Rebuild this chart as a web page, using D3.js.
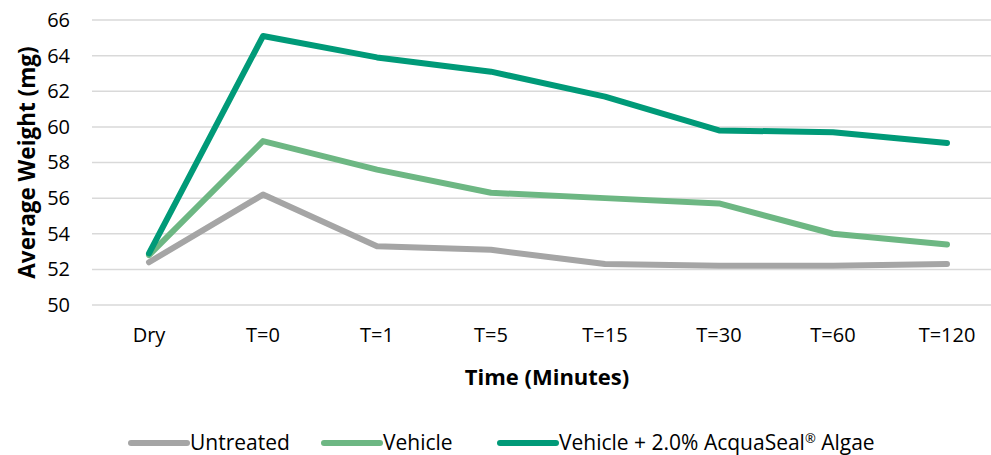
<!DOCTYPE html>
<html>
<head>
<meta charset="utf-8">
<script src="https://cdn.jsdelivr.net/npm/d3@7"></script>
<style>
  body { margin: 0; background: #fff; }
  text { font-family: "Open Sans", "Liberation Sans", sans-serif; fill: #000; }
</style>
</head>
<body>
<div id="chart"></div>
<script>
// categories and series
const timePoints = ["Dry", "T=0", "T=1", "T=5", "T=15", "T=30", "T=60", "T=120"];
const untreated = [52.4, 56.2, 53.3, 53.1, 52.3, 52.2, 52.2, 52.3];
const vehicle = [52.8, 59.2, 57.6, 56.3, 56.0, 55.7, 54.0, 53.4];
const acquaSeal = [52.9, 65.1, 63.9, 63.1, 61.7, 59.8, 59.7, 59.1];
const yTicks = [50, 52, 54, 56, 58, 60, 62, 64, 66];
const seriesNames = ["Untreated", "Vehicle", "Vehicle + 2.0% AcquaSeal\u00AE Algae"];

const series = [
  { name: seriesNames[0], values: untreated, color: "#A5A5A5" },
  { name: seriesNames[1], values: vehicle, color: "#6DB783" },
  { name: seriesNames[2], values: acquaSeal, color: "#009A78" }
];

const W = 991, H = 455;
const svg = d3.select("#chart").append("svg")
  .attr("width", W).attr("height", H);

// plot area (right edge runs past the picture, as in the reference)
const plotLeft = 92, plotRight = 1004, plotTop = 20, plotBottom = 305;

const x = d3.scaleBand().domain(timePoints).range([plotLeft, plotRight]);
const y = d3.scaleLinear().domain([50, 66]).range([plotBottom, plotTop]);

// gridlines
svg.append("g")
  .selectAll("line")
  .data(yTicks)
  .join("line")
  .attr("x1", plotLeft).attr("x2", W)
  .attr("y1", d => y(d)).attr("y2", d => y(d))
  .attr("stroke", "#D9D9D9")
  .attr("stroke-width", 1.5);

// y axis labels
const yAxis = svg.append("g")
  .attr("transform", `translate(${plotLeft},0)`)
  .call(d3.axisLeft(y).tickValues(yTicks).tickSize(0).tickPadding(22));
yAxis.select(".domain").remove();
yAxis.selectAll("text")
  .style("font-size", "20px")
  .attr("font-family", null);

// x axis labels
const xAxis = svg.append("g")
  .attr("transform", `translate(0,${plotBottom})`)
  .call(d3.axisBottom(x).tickSize(0).tickPadding(23));
xAxis.select(".domain").remove();
xAxis.selectAll("text")
  .style("font-size", "20px")
  .attr("font-family", null);

// axis titles
svg.append("text")
  .attr("transform", `translate(29,${(plotTop + plotBottom) / 2}) rotate(-90)`)
  .attr("text-anchor", "middle")
  .attr("dominant-baseline", "middle")
  .style("font-size", "22.5px")
  .style("font-weight", "bold")
  .text("Average Weight (mg)");

svg.append("text")
  .attr("x", 547)
  .attr("y", 385)
  .attr("text-anchor", "middle")
  .style("font-size", "22px")
  .style("font-weight", "bold")
  .text("Time (Minutes)");

// lines
const line = d3.line()
  .x((d, i) => x(timePoints[i]) + x.bandwidth() / 2)
  .y(d => y(d));

svg.append("g")
  .selectAll("path")
  .data(series)
  .join("path")
  .attr("d", d => line(d.values))
  .attr("fill", "none")
  .attr("stroke", d => d.color)
  .attr("stroke-width", 6)
  .attr("stroke-linecap", "round")
  .attr("stroke-linejoin", "round");

// legend
const legendX = [131, 324, 500];
const legend = svg.append("g")
  .selectAll("g")
  .data(series)
  .join("g")
  .attr("transform", (d, i) => `translate(${legendX[i]},443)`);

legend.append("line")
  .attr("x1", 0).attr("x2", 56)
  .attr("stroke", d => d.color)
  .attr("stroke-width", 6)
  .attr("stroke-linecap", "round");

// the registered mark is set as a small superscript
legend.append("text")
  .attr("x", 59)
  .attr("y", 7)
  .style("font-size", "21px")
  .each(function(d) {
    const parts = d.name.split("\u00AE");
    const t = d3.select(this);
    t.append("tspan").text(parts[0]);
    if (parts.length > 1) {
      t.append("tspan")
        .attr("dy", -7)
        .style("font-size", "13px")
        .text("\u00AE");
      t.append("tspan")
        .attr("dy", 7)
        .text(parts[1]);
    }
  });
</script>
</body>
</html>
